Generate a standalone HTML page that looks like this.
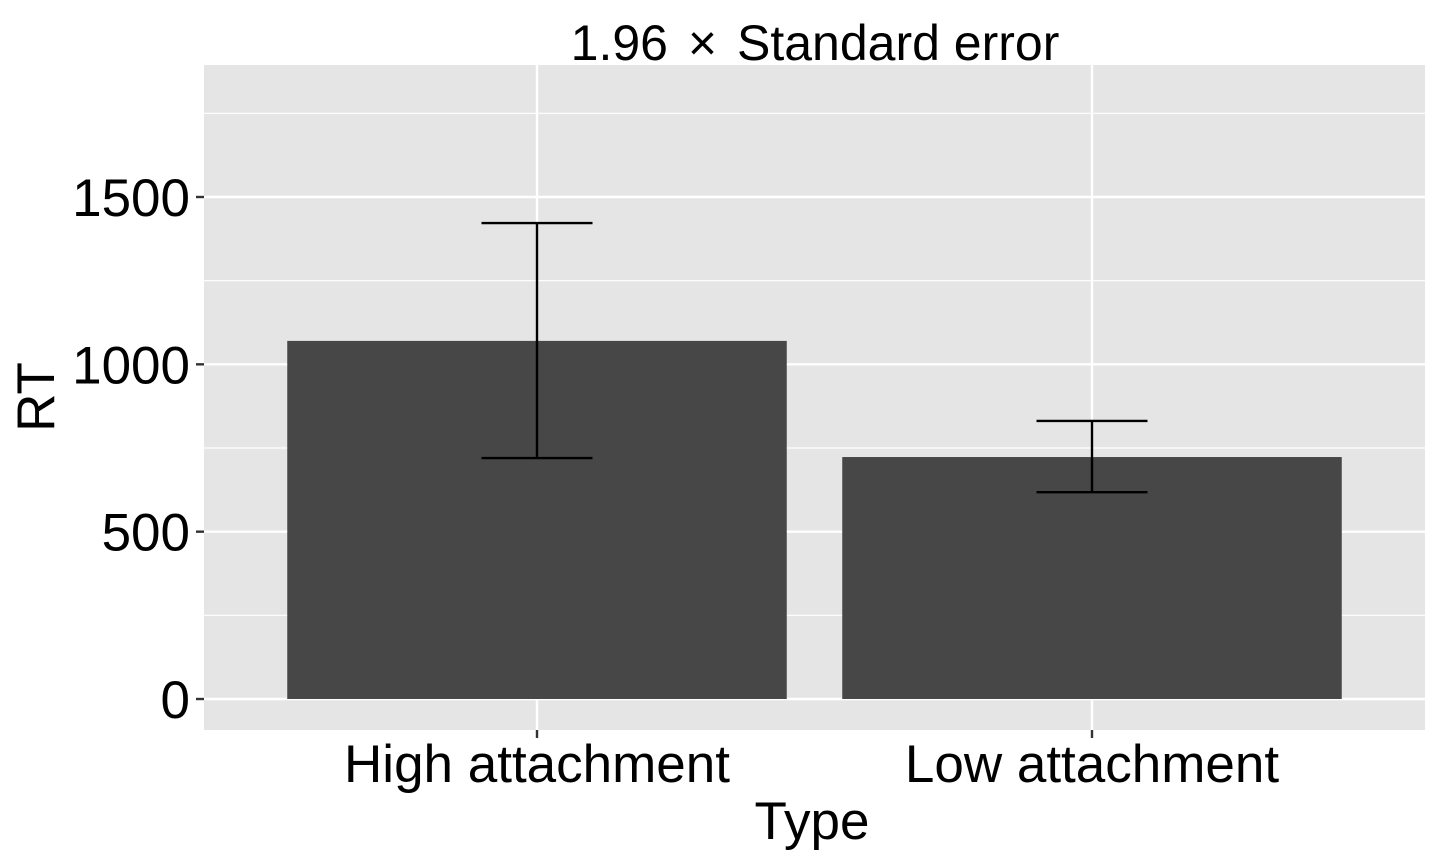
<!DOCTYPE html>
<html><head><meta charset="utf-8"><style>body{margin:0;background:#fff}svg{display:block;font-family:"Liberation Sans",Arial,sans-serif}</style></head>
<body>
<svg id="chart" width="1440" height="864" viewBox="0 0 1440 864">
<rect x="0" y="0" width="1440" height="864" fill="#fff"/>
<rect x="204" y="65" width="1221" height="665" fill="#e5e5e5"/>
<g id="grid"></g><g id="bars"></g><g id="errs"></g><g id="axes"></g>
<text x="815" y="60" font-size="50" text-anchor="middle" xml:space="preserve">1.96 <tspan dx="6">×</tspan> <tspan dx="6">Standard error</tspan></text>
<text x="812" y="839" font-size="53" text-anchor="middle">Type</text>
<text x="0" y="0" font-size="53" text-anchor="middle" transform="translate(54,397) rotate(-90)">RT</text>
</svg>
<script>
const categories=["High attachment","Low attachment"];
const means=[1070,723];
const upper=[1422,831];
const lower=[720,618];
const yTicks=[0,500,1000,1500];
const yMinor=[250,750,1250,1750];
const NS="http://www.w3.org/2000/svg";
const px0=204,px1=1425,py0=65,py1=730;
const y0v=699,ypu=(699-197)/1500;
const y=v=>y0v-v*ypu;
const band=(px1-px0)/ (categories.length+0.2);
const xc=i=>px0+band*0.6+band*i;
function mk(tag,attrs,parent){const e=document.createElementNS(NS,tag);for(const k in attrs)e.setAttribute(k,attrs[k]);document.getElementById(parent).appendChild(e);return e;}
yMinor.forEach(v=>{const l=mk('line',{x1:px0,x2:px1,y1:y(v),y2:y(v),stroke:'#fff','stroke-width':1.2},'grid');

});
yTicks.forEach(v=>{const l=mk('line',{x1:px0,x2:px1,y1:y(v),y2:y(v),stroke:'#fff','stroke-width':2.4},'grid');


const t=mk('line',{x1:px0-8,x2:px0,y1:y(v),y2:y(v),stroke:'#333','stroke-width':2.4},'axes');


const tx=mk('text',{x:px0-14,y:y(v)+19,'font-size':53,'text-anchor':'end',fill:'#000'},'axes');tx.textContent=v;

});
categories.forEach((c,i)=>{const cx=xc(i);
const g=mk('line',{x1:cx,x2:cx,y1:py0,y2:py1,stroke:'#fff','stroke-width':2.4},'grid');


const bw=band*0.9;
const b=mk('rect',{x:cx-bw/2,y:y(means[i]),width:bw,height:y(0)-y(means[i]),fill:'#474747'},'bars');


const cw=band*0.1;
const e=mk('path',{d:`M${cx-cw} ${y(upper[i])}H${cx+cw}M${cx} ${y(upper[i])}V${y(lower[i])}M${cx-cw} ${y(lower[i])}H${cx+cw}`,stroke:'#000','stroke-width':2.4,fill:'none'},'errs');


const t=mk('line',{x1:cx,x2:cx,y1:py1,y2:py1+8,stroke:'#333','stroke-width':2.4},'axes');


const tx=mk('text',{x:cx,y:782,'font-size':53,'text-anchor':'middle',fill:'#000'},'axes');tx.textContent=c;

});
</script>
</body></html>
